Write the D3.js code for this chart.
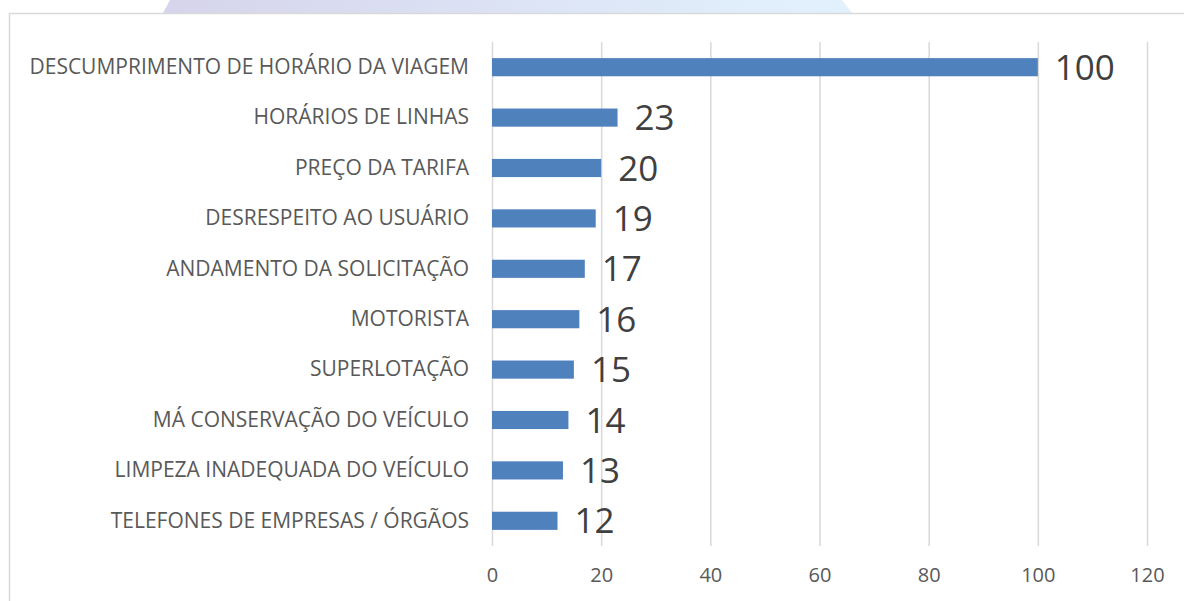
<!DOCTYPE html>
<html>
<head>
<meta charset="utf-8">
<script src="https://cdn.jsdelivr.net/npm/d3@7"></script>
<style>
  body { margin: 0; background: #fff; }
  svg { display: block; }
</style>
</head>
<body>
<svg width="1184" height="601"></svg>
<script>
// categories top to bottom and their counts
var categories = [
    "DESCUMPRIMENTO DE HORÁRIO DA VIAGEM",
    "HORÁRIOS DE LINHAS",
    "PREÇO DA TARIFA",
    "DESRESPEITO AO USUÁRIO",
    "ANDAMENTO DA SOLICITAÇÃO",
    "MOTORISTA",
    "SUPERLOTAÇÃO",
    "MÁ CONSERVAÇÃO DO VEÍCULO",
    "LIMPEZA INADEQUADA DO VEÍCULO",
    "TELEFONES DE EMPRESAS / ÓRGÃOS"
];
var values = [100, 23, 20, 19, 17, 16, 15, 14, 13, 12];
var xTicks = [0, 20, 40, 60, 80, 100, 120];

var data = categories.map((c, i) => ({name: c, value: values[i]}));

var svg = d3.select('svg'),
    width = +svg.attr("width"),
    height = +svg.attr("height");

// watermark shape peeking at the top
var defs = svg.append('defs');
var grad = defs.append('linearGradient').attr('id', 'topGrad');
grad.append('stop').attr('offset', '0%').attr('stop-color', '#d6d4ec');
grad.append('stop').attr('offset', '100%').attr('stop-color', '#e2f2fd');
svg.append('path')
    .attr('d', 'M170,0 L842,0 L852,13 L163,13 Z')
    .attr('fill', 'url(#topGrad)');

// chart frame
svg.append('path')
    .attr('d', 'M9.5,601 L9.5,13.5 L1184,13.5')
    .attr('fill', 'none')
    .attr('stroke', '#d9d9d9')
    .attr('stroke-width', 1.5);

var margin = {top: 42, left: 492};
var innerWidth = 1147 - margin.left;
var innerHeight = 546 - margin.top;

var xScale = d3.scaleLinear()
    .domain([0, 120])
    .range([0, innerWidth]);

var yScale = d3.scaleBand()
    .domain(categories)
    .range([0, innerHeight])
    .paddingInner(0.64)
    .paddingOuter(0.32);

var g = svg.append('g')
    .attr('transform', `translate(${margin.left},${margin.top})`);

// gridlines
var grid = d3.axisBottom(xScale)
    .tickValues(xTicks)
    .tickSize(innerHeight)
    .tickFormat('');
g.append('g')
    .call(grid)
    .call(s => s.select('.domain').remove())
    .call(s => s.selectAll('line').attr('stroke', '#d9d9d9').attr('stroke-width', 1.5));

// x tick labels
var xAxis = d3.axisBottom(xScale)
    .tickValues(xTicks)
    .tickSize(0)
    .tickPadding(22);
g.append('g')
    .attr('transform', `translate(0,${innerHeight})`)
    .call(xAxis)
    .call(s => s.select('.domain').remove())
    .call(s => s.selectAll('text')
        .attr('fill', '#595959')
        .attr('font-size', 20)
        .attr('font-family', "'Open Sans', sans-serif"));

// category labels
var yAxis = d3.axisLeft(yScale).tickSize(0).tickPadding(23);
g.append('g')
    .call(yAxis)
    .call(s => s.select('.domain').remove())
    .call(s => s.selectAll('text')
        .attr('fill', '#595959')
        .attr('font-size', 21)
        .attr('font-family', "'Open Sans', sans-serif"));

// bars
g.selectAll('.bar')
    .data(data)
    .enter().append('rect')
    .attr('class', 'bar')
    .attr('x', xScale(0))
    .attr('y', d => yScale(d.name))
    .attr('width', d => xScale(d.value) - xScale(0))
    .attr('height', yScale.bandwidth())
    .attr('fill', '#4f81bd');

// value labels
g.selectAll('.val')
    .data(data)
    .enter().append('text')
    .attr('class', 'val')
    .attr('x', d => xScale(d.value) + 17)
    .attr('y', d => yScale(d.name) + yScale.bandwidth() / 2)
    .attr('dy', '0.36em')
    .attr('fill', '#404040')
    .attr('font-size', 35)
    .attr('font-family', "'Open Sans', sans-serif")
    .text(d => d.value);
</script>
</body>
</html>
